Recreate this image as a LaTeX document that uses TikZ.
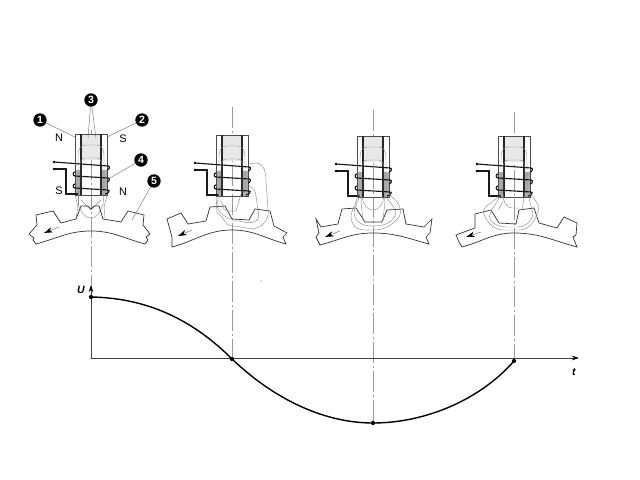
\documentclass[tikz,border=0pt]{standalone}
\usepackage{fontspec}
\setmainfont{Liberation Sans}
\usetikzlibrary{arrows.meta}
\tikzset{
  wire/.style={line width=0.65pt,black!90},
  pole/.style={line width=0.3pt,black!70},
  bar/.style={line width=0.6pt,black!85},
  flux/.style={line width=0.25pt,black!45},
  rotor/.style={line width=0.4pt,black!80},
  centerline/.style={line width=0.25pt,black!40,dash pattern=on 12pt off 1.5pt on 1.5pt off 1.5pt},
  leader/.style={line width=0.25pt,black!55},
  axisline/.style={line width=0.4pt,black!75,-{Stealth[length=4pt,width=2.6pt,black]}},
  numbered/.style={circle,fill=black,text=white,inner sep=0pt,minimum size=7.6pt,font=\fontsize{6}{6}\selectfont\bfseries},
  poletext/.style={inner sep=0pt,font=\fontsize{6.2}{6}\selectfont},
  axistext/.style={inner sep=0pt,font=\fontsize{6}{6}\selectfont\bfseries\itshape},
  spot/.style={circle,fill=black,inner sep=0pt,minimum size=2.4pt},
  motion/.style={line width=0.25pt,black!60,{Stealth[length=5pt,width=3pt,black]}-}
}
% stator with coil, origin on the centre line, y as in the full picture
\newcommand{\statorcoil}{
\fill[black!9] (-9,134) rectangle (10,160);
\fill[black!32] (-16,170) rectangle (-10,195);
\fill[black!32] (10,170) rectangle (16,195);
\draw[pole] (-16,134) rectangle (16,195);
\draw[bar] (-10,134) -- (-10,195);
\draw[bar] (10,134) -- (10,195);
\draw[flux] (-13,190) -- (-13,155) to[out=90,in=180] (-6,145) -- (6,145) to[out=0,in=90] (13,155) -- (13,190);
\draw[flux] (-11,190) -- (-11,167) to[out=90,in=180] (-6,158) -- (6,158) to[out=0,in=90] (11,167) -- (11,190);
\draw[wire] (-37,162) -- (17,166) to[out=0,in=0,looseness=1.5] (16,170);
\draw[wire] (-16,176) to[out=180,in=180,looseness=1.5] (-16,172);
\draw[wire] (-16,176) -- (17,178) to[out=0,in=0,looseness=1.5] (16,182);
\draw[wire] (-16,188) to[out=180,in=180,looseness=1.5] (-16,184);
\draw[wire] (-16,188) -- (17,190) to[out=0,in=0,looseness=1.5] (14,194);
\draw[wire] (-37,169) -- (-25,169) -- (-25,194) -- (-13,194);
\fill (-37,162) circle[radius=1.3];
\fill (-37,169) circle[radius=1.3];
}
\begin{document}
\begin{tikzpicture}[x=0.02cm,y=-0.02cm]
\useasboundingbox (0,0) rectangle (640,480);
% centre lines
\draw[centerline] (91,130) -- (91,297);
\draw[centerline] (232,107) -- (232,359);
\draw[centerline] (373,110) -- (373,423);
\draw[centerline] (514,112) -- (514,361);
% first position
\begin{scope}[shift={(91,0)}]
\statorcoil
\draw[flux] (-16,195) -- (-13,207) -- (-15,218);
\draw[flux] (16,195) -- (13,207) -- (14,218);
\draw[flux] (-13,205) to[out=-60,in=180] (0,218) to[out=0,in=-120] (12,205);
\draw[flux] (-10,200) -- (0,210) -- (10,200);
\draw[flux] (-13,190) -- (-13,205);
\draw[flux] (13,190) -- (12,205);
\draw[rotor] (-62,234) -- (-54,225) -- (-55,215) -- (-38,211) -- (-30,223) -- (-15,219) -- (-10,206) -- (-3,206) -- (0,209) -- (3,206) -- (8,206) -- (12,219) -- (30,222) -- (37,211) -- (53,215) -- (52,225) -- (59,234) -- (55,237) -- (57,240) -- (54,244) to[out=165,in=0] (0,231) to[out=180,in=15] (-55,244) -- (-58,240) -- (-57,238) -- cycle;
\draw[motion] (-47,233) -- (-32,227);
\end{scope}
% second position
\begin{scope}[shift={(232,1)}]
\statorcoil
\draw[rotor] (-65,218) -- (-51,212) -- (-44,223) -- (-26,220) -- (-22,206) -- (-7,205) -- (0,218) -- (17,219) -- (23,208) -- (38,210) -- (42,225) -- (55,232) -- (51,236) -- (54,243) to[out=165,in=0] (0,229) to[out=180,in=15] (-60,246) -- (-60,236) -- cycle;
\draw[motion] (-54,235) -- (-40,229);
\draw[flux] (17,163) -- (24,162) to[out=0,in=90] (34,180) -- (36,208) to[out=-80,in=40] (30,224) to[out=-140,in=0] (0,225) to[out=180,in=-20] (-15,212) -- (-16,195);
\draw[flux] (17,185) to[out=-20,in=90] (24,195) -- (26,209) to[out=-80,in=30] (24,220) to[out=-150,in=10] (0,220);
\draw[flux] (-13,190) -- (-15,205) to[out=-70,in=170] (0,218);
\draw[flux] (-11,190) -- (-11,200) -- (-8,208) to[out=-40,in=180] (4,210) -- (10,190);
\end{scope}
% third position
\begin{scope}[shift={(373,2)}]
\statorcoil
\draw[rotor] (-57,217) -- (-52,225) -- (-35,222) -- (-31,207) -- (-17,206) -- (-8,220) -- (9,220) -- (14,208) -- (30,207) -- (33,222) -- (51,225) -- (59,217) -- (57,231) -- (53,235) -- (56,242) to[out=165,in=0] (0,231) to[out=180,in=15] (-53,243) -- (-57,235) -- (-54,231) -- cycle;
\draw[motion] (-48,235) -- (-33,229);
\draw[flux] (-14,190) -- (-18,203) to[out=-120,in=120] (-20,222) to[out=-60,in=180] (0,228) to[out=0,in=-130] (26,215) to[out=60,in=-40] (20,196) -- (16,192);
\draw[flux] (-13,192) to[out=-100,in=110] (-18,215) to[out=-70,in=180] (0,224) to[out=0,in=-120] (22,214) to[out=70,in=-60] (14,196);
\draw[flux] (-11,190) -- (-12,200) -- (-10,218);
\draw[flux] (11,190) -- (12,200) -- (10,218);
\draw[flux] (-11,195) to[out=-80,in=180] (0,208) to[out=0,in=-100] (11,195);
\end{scope}
% fourth position
\begin{scope}[shift={(514,2)}]
\statorcoil
\draw[rotor] (-58,233) -- (-39,226) -- (-39,212) -- (-23,208) -- (-15,221) -- (2,222) -- (5,208) -- (20,206) -- (25,221) -- (43,226) -- (50,215) -- (63,221) -- (62,233) -- (59,235) -- (63,245) to[out=165,in=0] (0,231) to[out=180,in=15] (-52,245) -- (-55,240) -- cycle;
\draw[motion] (-48,235) -- (-33,230);
\draw[flux] (15,190) to[out=-60,in=70] (24,210) to[out=-110,in=0] (5,228) -- (-10,228) to[out=180,in=-70] (-30,212) to[out=110,in=-120] (-16,194);
\draw[flux] (-13,190) to[out=-100,in=70] (-24,212) to[out=-110,in=180] (-8,225) -- (4,225) to[out=0,in=-100] (19,212) -- (15,196);
\draw[flux] (-11,190) -- (-11,200) -- (-16,208);
\draw[flux] (11,190) -- (8,208);
\draw[flux] (-11,192) to[out=-90,in=180] (-2,206) -- (4,206);
\end{scope}
% numbers and poles of the first position
\node[numbered] (num1) at (40,120) {1};
\node[numbered] (num2) at (142,120) {2};
\node[numbered] (num3) at (91,100) {3};
\node[numbered] (num4) at (141,160) {4};
\node[numbered] (num5) at (154,181) {5};
\coordinate (end1) at (75,137);
\coordinate (end2) at (107,137);
\coordinate (end3a) at (88,138);
\coordinate (end3b) at (96,138);
\coordinate (end4) at (110,178);
\coordinate (end5) at (132,220);
\draw[leader] (num1) -- (end1);
\draw[leader] (num2) -- (end2);
\draw[leader] (num3) -- (end3a);
\draw[leader] (num3) -- (end3b);
\draw[leader] (num4) -- (end4);
\draw[leader] (num5) -- (end5);
\node[poletext] (northa) at (59,138) {N};
\node[poletext] (southa) at (123,139) {S};
\node[poletext] (southb) at (59,191) {S};
\node[poletext] (northb) at (123,192) {N};
% graph
\coordinate (origin) at (91,358);
\coordinate (utop) at (91,285);
\coordinate (tend) at (579,358);
\draw[axisline] (origin) -- (utop);
\draw[axisline] (origin) -- (tend);
\node[axistext] (ulabel) at (81,290) {U};
\node[axistext] (tlabel) at (574,372) {t};
\node[spot] (pa) at (91,297) {};
\node[spot] (pb) at (232,359) {};
\node[spot] (pc) at (373,423) {};
\node[spot] (pd) at (514,361) {};
\draw[line width=0.8pt] (pa.center) .. controls (150,298) and (195,322) .. (pb.center) .. controls (275,400) and (325,423) .. (pc.center) .. controls (425,423) and (480,400) .. (pd.center);
\fill[black!60] (261,281) circle[radius=0.6];
\end{tikzpicture}
\end{document}
